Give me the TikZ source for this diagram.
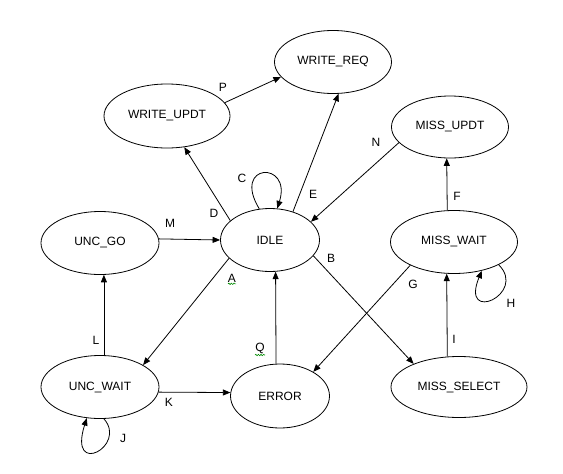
\documentclass[tikz,border=0pt]{standalone}
\usepackage{fontspec}
\setmainfont{Liberation Sans}
\usetikzlibrary{arrows.meta,shapes.geometric,decorations.pathmorphing,calc}
\tikzset{
  st/.style={draw, ellipse, line width=0.8pt, inner sep=0pt, font=\fontsize{12}{14}\selectfont},
  lbl/.style={inner sep=0pt, font=\fontsize{12}{14}\selectfont},
  tr/.style={line width=0.8pt, -{Triangle[length=7.5pt,width=6pt]}},
  squig/.style={draw=green!55!black, line width=0.6pt, decorate, decoration={snake, amplitude=0.7pt, segment length=2.6pt}}
}
\begin{document}
\begin{tikzpicture}[x=1pt,y=-1pt]
\useasboundingbox[fill=white] (0,0) rectangle (563,474);
% states
\node[st, minimum width=117pt, minimum height=63pt] (wreq)  at (333,62)  {WRITE\_REQ};
\node[st, minimum width=126pt, minimum height=64pt] (wupdt) at (167,116) {WRITE\_UPDT};
\node[st, minimum width=99pt,  minimum height=63pt] (idle)  at (270,240) {IDLE};
\node[st, minimum width=118pt, minimum height=63pt] (ug)    at (100,243) {UNC\_GO};
\node[st, minimum width=118pt, minimum height=63pt] (uw)    at (100,387) {UNC\_WAIT};
\node[st, minimum width=99pt,  minimum height=64pt] (err)   at (280,396) {ERROR};
\node[st, minimum width=117pt, minimum height=62pt] (mupdt) at (450,127) {MISS\_UPDT};
\node[st, minimum width=127pt, minimum height=63pt] (mwait) at (454,242) {MISS\_WAIT};
\node[st, minimum width=136pt, minimum height=61pt] (msel)  at (459,387) {MISS\_SELECT};
% transitions
\draw[tr] (wupdt.13.8) -- (wreq.196);
\draw[tr] (idle.154.6) -- (wupdt.299);
\draw[tr] (idle.51.6) -- (wreq.280);
\draw[tr] (mupdt.197.4) -- (idle.24.4);
\draw[tr] (ug.4) -- (idle.180);
\draw[tr] (idle.204.2) -- (uw.27.6);
\draw[tr] (err.97) -- (idle.280.6);
\draw[tr] (uw.83) -- (ug.277);
\draw[tr] (uw.355) -- (err.176.6);
\draw[tr] (idle.340.3) -- (msel.153.9);
\draw[tr] (mwait.208) -- (err.36);
\draw[tr] (mwait.102.7) -- (mupdt.264.5);
\draw[tr] (msel.111.8) -- (mwait.257.7);
% self loops
\draw[tr] (idle.109) .. controls +(-28,-46) and +(15,-48) .. (idle.77);
\draw[tr] (uw.277) .. controls +(24,27) and +(-19,60) .. (uw.247);
\draw[tr] (mwait.333) .. controls +(29,29) and +(-22,54) .. (mwait.314);
% labels
\node[lbl] (lP) at (223,87)  {P};
\node[lbl] (lD) at (214,213) {D};
\node[lbl] (lE) at (313,194) {E};
\node[lbl] (lC) at (242,178) {C};
\node[lbl] (lN) at (376,142) {N};
\node[lbl] (lM) at (170,223) {M};
\node[lbl] (lA) at (232,278) {A};
\node[lbl] (lQ) at (260,348) {Q};
\node[lbl] (lL) at (96,340)  {L};
\node[lbl] (lK) at (169,402) {K};
\node[lbl] (lJ) at (123,438) {J};
\node[lbl] (lB) at (331,258) {B};
\node[lbl] (lG) at (413,284) {G};
\node[lbl] (lF) at (457,196) {F};
\node[lbl] (lI) at (454,339) {I};
\node[lbl] (lH) at (511,303) {H};
% spell-check squiggles
\draw[squig] ($(lA.south)+(-4,1.5)$) -- ++(8,0);
\draw[squig] ($(lQ.south)+(-5,1.5)$) -- ++(10,0);
\end{tikzpicture}
\end{document}
